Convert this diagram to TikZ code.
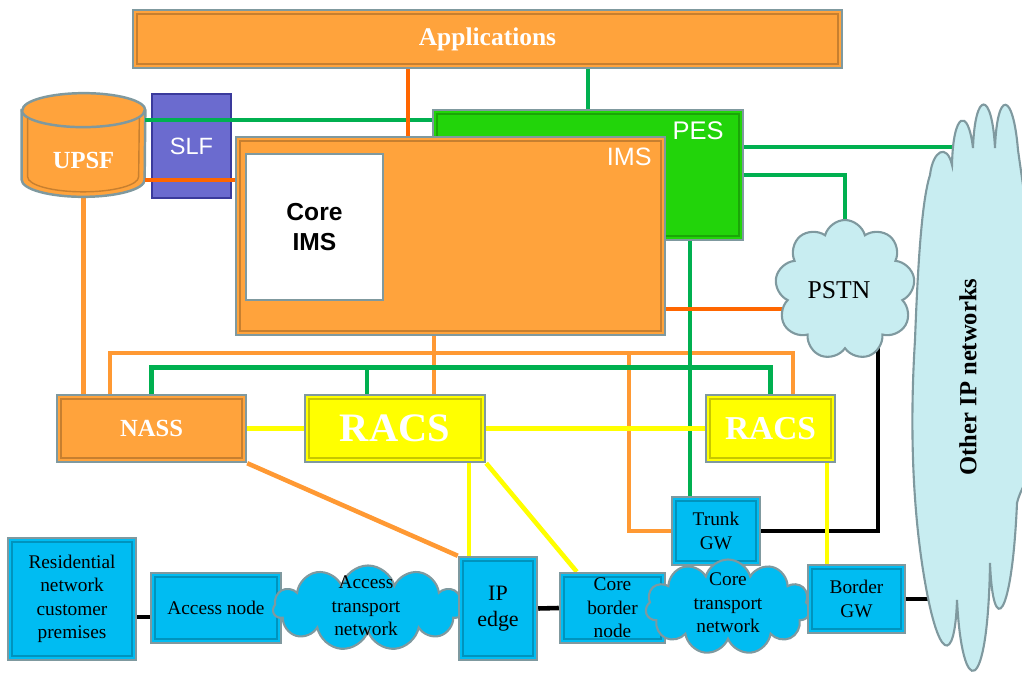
\documentclass[tikz,border=0pt]{standalone}
\usepackage{fontspec}
\setmainfont{Liberation Serif}
\setsansfont{Liberation Sans}
\usetikzlibrary{shapes,backgrounds,calc}

\definecolor{boxor}{HTML}{FFA33C}
\definecolor{lineor}{HTML}{FF9933}
\definecolor{darkor}{HTML}{FF6600}
\definecolor{linegr}{HTML}{00B050}
\definecolor{pesgr}{HTML}{22D40A}
\definecolor{slfbl}{HTML}{6B6BCF}
\definecolor{slfedge}{HTML}{3A3A9C}
\definecolor{racsyl}{HTML}{FFFF00}
\definecolor{netbl}{HTML}{00BCF2}
\definecolor{edgegr}{HTML}{7F999F}
\definecolor{cloudbl}{HTML}{C8EDF1}

\tikzset{
  box/.style={rectangle, fill=#1, draw=edgegr, line width=1.4pt, inner sep=0pt,
    path picture={\draw[#1!78!black, line width=0.9pt]
      ([shift={(2.2pt,-2.2pt)}]path picture bounding box.north west) rectangle
      ([shift={(-2.2pt,2.2pt)}]path picture bounding box.south east);}},
  wtxt/.style={text=white, font=\bfseries\fontsize{14}{16}\selectfont},
  nettxt/.style={align=center, font=\fontsize{11}{13.4}\selectfont},
  netbox/.style={box=netbl, nettxt},
  netcloud/.style={cloud, cloud puffs=11, cloud ignores aspect, fill=#1,
    draw=edgegr, line width=1.2pt},
  link/.style={line width=2.6pt},
}

\begin{document}
\begin{tikzpicture}[x=0.02cm, y=-0.02cm]
\useasboundingbox (0,0) rectangle (1022,675);
\clip (0,0) rectangle (1022,675);

% service layer
\node (app) [box=boxor, wtxt, font=\bfseries\fontsize{14.5}{16}\selectfont,
  minimum width=14.18cm, minimum height=1.16cm] at (487.5,39) {Applications};

% UPSF database
\node (upsf) [minimum width=2.46cm, minimum height=2.06cm, inner sep=0pt] at (83.5,145) {};
\filldraw[fill=boxor, draw=edgegr, line width=1.4pt]
  ([yshift=-0.34cm]upsf.north west) -- ([yshift=0.34cm]upsf.south west)
  arc[start angle=180, end angle=360, x radius=1.23cm, y radius=0.34cm]
  -- ([yshift=-0.34cm]upsf.north east)
  arc[start angle=0, end angle=180, x radius=1.23cm, y radius=0.34cm] -- cycle;
\draw[edgegr, line width=1.4pt] ([yshift=-0.34cm]upsf.north west)
  arc[start angle=180, end angle=360, x radius=1.23cm, y radius=0.34cm];
\draw[boxor!78!black, line width=0.8pt] ([xshift=0.12cm,yshift=-0.5cm]upsf.north west)
  -- ([xshift=0.12cm,yshift=0.4cm]upsf.south west)
  arc[start angle=180, end angle=360, x radius=1.11cm, y radius=0.3cm]
  -- ([xshift=-0.12cm,yshift=-0.5cm]upsf.north east);
\node (upsfl) [wtxt] at ([yshift=-0.3cm]upsf.center) {UPSF};

\node (slf) [fill=slfbl, draw=slfedge, line width=1.4pt, text=white,
  font=\sffamily\fontsize{13.4}{15}\selectfont,
  minimum width=1.58cm, minimum height=2.08cm] at (191.5,146) {SLF};

% PES and IMS
\node (pes) [box=pesgr, minimum width=6.2cm, minimum height=2.6cm] at (588,175) {};
\node (pesl) [text=white, font=\sffamily\fontsize{14.5}{16}\selectfont]
  at ([xshift=-0.92cm, yshift=-0.44cm]pes.north east) {PES};
\node (ims) [box=boxor, minimum width=8.58cm, minimum height=3.96cm] at (450.5,236) {};
\node (imsl) [text=white, font=\sffamily\fontsize{14.3}{16}\selectfont]
  at ([xshift=-0.74cm, yshift=-0.42cm]ims.north east) {IMS};
\node (core) [fill=white, draw=edgegr, line width=1.4pt, align=center,
  font=\sffamily\bfseries\fontsize{14}{17.6}\selectfont,
  minimum width=2.74cm, minimum height=2.92cm] at (314.5,227) {Core\\IMS};

% lines over SLF
\coordinate (ug) at ([yshift=0.5cm]upsf.east);
\draw[link, linegr] (ug) -- (ug -| pes.west);
\coordinate (uo) at ([yshift=-0.7cm]upsf.east);
\draw[link, darkor] (uo) -- (uo -| ims.west);
\coordinate (ao) at ([xshift=-0.85cm]ims.north);
\draw[link, darkor] (ao) -- (ao |- app.south);

% outer networks
\node (pstn) [netcloud=cloudbl, cloud puffs=9, minimum width=2.8cm, minimum height=2.8cm] at (845,290) {};
\node (pstnl) [font=\fontsize{14.6}{16}\selectfont] at (839,290) {PSTN};
\node (other) [minimum width=2.2cm, minimum height=11.6cm] at (978,392) {};
\filldraw[fill=cloudbl, draw=edgegr, line width=1.2pt]
  (923,570) .. controls (912,500) and (910,420) .. (915,340)
  .. controls (918,260) and (922,200) .. (930,175)
  .. controls (933,150) and (947,143) .. (952,165)
  .. controls (953,112) and (968,106) .. (973,148)
  .. controls (975,90) and (992,90) .. (995,148)
  .. controls (997,90) and (1013,90) .. (1018,150)
  .. controls (1025,200) and (1035,260) .. (1035,320)
  -- (1035,460)
  .. controls (1028,480) and (1020,490) .. (1017,503)
  .. controls (1012,620) and (993,640) .. (990,563)
  .. controls (988,700) and (962,700) .. (957,600)
  .. controls (955,665) and (938,665) .. (923,570) -- cycle;
\node (otherl) [rotate=90, font=\bfseries\fontsize{14}{16}\selectfont]
  at (968,377) {Other IP networks};

% control layer
\node (nass) [box=boxor, wtxt, minimum width=3.78cm, minimum height=1.34cm]
  at (151.5,428.5) {NASS};
\node (racsA) [box=racsyl, wtxt, font=\bfseries\fontsize{23}{26}\selectfont,
  minimum width=3.6cm, minimum height=1.34cm] at (395,428.5) {RACS};
\node (racsB) [box=racsyl, wtxt, font=\bfseries\fontsize{19}{22}\selectfont,
  minimum width=2.58cm, minimum height=1.34cm] at (770.5,428.5) {RACS};

% transport layer
\node (res) [netbox, minimum width=2.56cm, minimum height=2.44cm]
  at (72,599) {Residential\\network\\customer\\premises};
\node (acc) [netbox, minimum width=2.6cm, minimum height=1.4cm] at (216,608) {Access node};
\node (atn) [netcloud=netbl, minimum width=3.8cm, minimum height=1.7cm] at (368,608) {};
\node (atnl) [nettxt] at (366,606) {Access\\transport\\network};
\node (ipedge) [netbox, font=\fontsize{12.5}{14.7}\selectfont,
  minimum width=1.56cm, minimum height=2.06cm] at (498,608.5) {IP\\edge};
\node (cbn) [netbox, minimum width=2.1cm, minimum height=1.4cm] at (612.5,608) {Core\\border\\node};
\node (trunk) [netbox, minimum width=1.76cm, minimum height=1.36cm] at (716,531) {Trunk\\GW};
\node (ctn) [netcloud=netbl, minimum width=3.3cm, minimum height=1.9cm] at (728,607) {};
\node (ctnl) [nettxt] at (728,603) {Core\\transport\\network};
\node (bgw) [netbox, minimum width=1.94cm, minimum height=1.36cm] at (856.5,599) {Border\\GW};

\begin{scope}[on background layer]
\begin{scope}[link]
  \draw[linegr] (pes.north) -- (pes.north |- app.south);
  \draw[lineor] (upsf.south) -- (upsf.south |- nass.north);
  % orange bus
  \coordinate (obus) at ([xshift=-0.33cm, yshift=-0.34cm]ims.south);
  \coordinate (nassor) at ([xshift=-0.83cm]nass.north);
  \coordinate (racsBor) at ([xshift=0.45cm]racsB.north);
  \draw[lineor] (nassor) |- (obus) -| (racsBor);
  \draw[lineor] (ims.south -| obus) -- (racsA.north -| obus);
  \coordinate (tbend) at ([xshift=-0.84cm]trunk.west);
  \draw[lineor] (tbend |- obus) |- (trunk.west);
  % green bus
  \coordinate (gbus) at ([yshift=0.52cm]racsA.north);
  \draw[linegr] (nass.north) |- (gbus) -| (racsB.north);
  \coordinate (gdrop) at ([xshift=-0.56cm]racsA.north);
  \draw[linegr] (gdrop) -- (gdrop |- gbus);
  \coordinate (tdrop) at ([xshift=-0.52cm]trunk.north);
  \draw[linegr] (tdrop) -- (tdrop |- pes.south);
  \coordinate (pgo) at ([yshift=0.56cm]pes.east);
  \draw[linegr] (pgo) -- (pgo -| other);
  \draw[linegr] (pes.east) -| (pstn.north);
  % PSTN links
  \coordinate (ipo) at ([yshift=-1.46cm]ims.east);
  \draw[darkor] (ipo) -- (ipo -| pstn);
  \coordinate (pbk) at ([xshift=0.66cm]pstn.center);
  \draw[black] (trunk.east) -| (pbk);
  \draw[black] (bgw.east) -- (bgw.east -| other);
  % RACS links
  \draw[racsyl] (nass.east) -- (racsA.west);
  \draw[racsyl] (racsA.east) -- (racsB.west);
  \coordinate (yip) at ([xshift=-0.58cm]ipedge.north);
  \draw[racsyl] (yip) -- (yip |- racsA.south);
  \draw[racsyl] (racsA.south east) -- ([xshift=0.36cm]cbn.north west);
  \coordinate (ybg) at ([xshift=-0.59cm]bgw.north);
  \draw[racsyl] (ybg) -- (ybg |- racsB.south);
  \draw[lineor] (nass.south east) -- (ipedge.north west);
  % transport chain
  \coordinate (rk) at ([yshift=-0.18cm]acc.west);
  \draw[black] (rk) -- (rk -| res.east);
  \draw[black] (ipedge.east) -- (cbn.west);
\end{scope}
\end{scope}
\end{tikzpicture}
\end{document}
